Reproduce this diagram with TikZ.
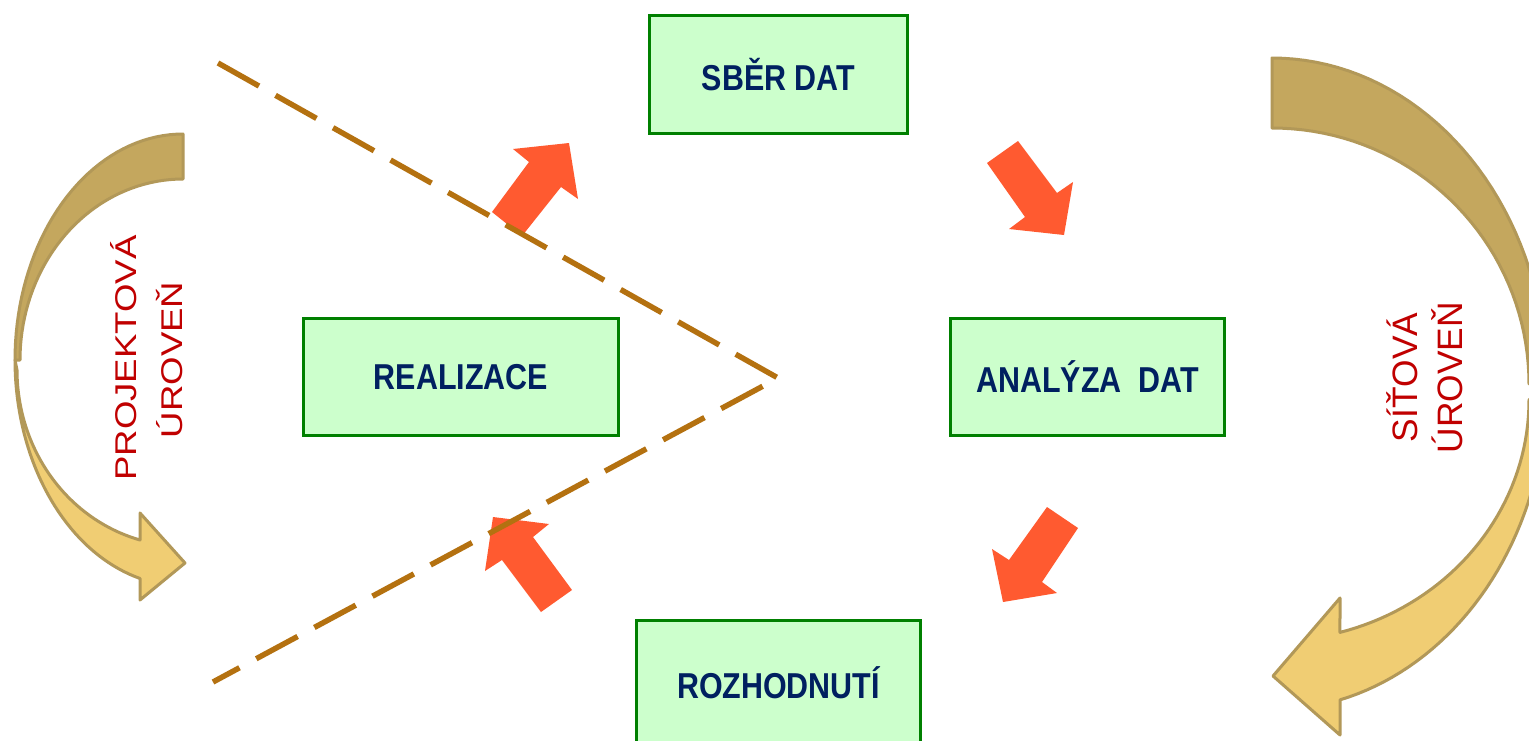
\documentclass[tikz,border=0pt]{standalone}
\usepackage{fontspec}
\setmainfont{Liberation Sans}
\newfontfamily\boxfont{Liberation Sans}[FakeStretch=0.845]
\newfontfamily\leftfont{Liberation Sans}[FakeStretch=1.22]
\definecolor{boxfill}{HTML}{CCFFCC}
\definecolor{boxgreen}{HTML}{008000}
\definecolor{boxtext}{HTML}{002060}
\definecolor{sidered}{HTML}{C00000}
\definecolor{redarrow}{HTML}{FF5A30}
\definecolor{dashbrown}{RGB}{180,113,16}
\definecolor{bandedge}{RGB}{178,152,88}
\definecolor{banddark}{RGB}{196,167,94}
\definecolor{bandlight}{RGB}{240,205,115}
\begin{document}
\begin{tikzpicture}[x=0.75pt,y=-0.75pt,
  box/.style={draw=boxgreen, fill=boxfill, line width=2.25pt, text=boxtext,
    font=\boxfont\bfseries\fontsize{27}{32}\selectfont, inner sep=0pt},
  sidetext/.style={text=sidered, rotate=90, anchor=base, inner sep=0pt},
  banddarkstyle/.style={fill=banddark, draw=bandedge, line width=2.25pt, line join=round},
  bandlightstyle/.style={fill=bandlight, draw=bandedge, line width=2.25pt, line join=round},
  blockarrow/.style={fill=redarrow},
  dashline/.style={draw=dashbrown, line width=4.1pt, dash pattern=on 35.25pt off 14.25pt}]
\useasboundingbox (0,0) rectangle (1529,740);
\clip (0,0) rectangle (1529,740);
\fill[white] (0,0) rectangle (1529,740);

% left curved arrow
\filldraw[banddarkstyle] plot[domain=270:180,samples=40] ({183+168*cos(\x)},{360+226*sin(\x)})
  -- plot[domain=180:270,samples=40] ({183+163*cos(\x)},{360+181*sin(\x)}) -- cycle;
\filldraw[bandlightstyle] plot[domain=180:104.83,samples=40] ({183+168*cos(\x)},{360+226*sin(\x)})
  -- (140,600) -- (185,563) -- (140,513)
  -- plot[domain=105.01:180,samples=40] ({183+166*cos(\x)},{370+176*sin(\x)}) -- cycle;

% right curved arrow
\filldraw[banddarkstyle] plot[domain=270:360,samples=40] ({1272+275*cos(\x)},{384+326*sin(\x)})
  -- plot[domain=0:-90,samples=40] ({1272+257*cos(\x)},{384+256*sin(\x)}) -- cycle;
\filldraw[bandlightstyle] plot[domain=0:75.68,samples=40] ({1272+275*cos(\x)},{384+326*sin(\x)})
  -- (1340,735) -- (1273,676) -- (1340,598)
  -- plot[domain=74.66:0,samples=40] ({1272+257*cos(\x)},{400+241*sin(\x)}) -- cycle;

% red block arrows
\fill[blockarrow] (492,212) -- (529,162) -- (513,149) -- (569,143) -- (578,199) -- (561,187) -- (522,236) -- cycle;
\fill[blockarrow] (987,163) -- (1018,141) -- (1057,193) -- (1073,182) -- (1064,235) -- (1009,229) -- (1025,217) -- cycle;
\fill[blockarrow] (1047,507) -- (1078,528) -- (1042,582) -- (1057,593) -- (1003,602) -- (992,549) -- (1009,560) -- cycle;
\fill[blockarrow] (493,517) -- (549,524) -- (533,537) -- (572,590) -- (541,612) -- (502,560) -- (485,571) -- cycle;

% dashed V
\coordinate (vtop) at (218,63);
\coordinate (vtip) at (778,378);
\coordinate (vbot) at (213,682);
\draw[dashline] (vtop) -- (vtip) -- (vbot);

% boxes
\node[box, minimum width=193.5pt, minimum height=88.5pt] (sber) at (778.5,74.5) {SBĚR DAT};
\node[box, minimum width=236.25pt, minimum height=87.75pt] (real) at (461,377) {REALIZACE};
\node[box, minimum width=205.5pt, minimum height=87.75pt] (anal) at (1087.5,377) {ANALÝZA\ \ DAT};
\node[box, minimum width=213pt, minimum height=93.4pt] (rozh) at (778.5,682.75) {ROZHODNUTÍ};

% side labels
\node[sidetext, font=\leftfont\fontsize{22.5}{27}\selectfont] (p1) at (136,358) {PROJEKTOVÁ};
\node[sidetext, font=\leftfont\fontsize{22.5}{27}\selectfont] (p2) at (182,360) {ÚROVEŇ};
\node[sidetext, font=\fontsize{26.5}{32}\selectfont] (s1) at (1417,377.5) {SÍŤOVÁ};
\node[sidetext, font=\fontsize{26.5}{32}\selectfont] (s2) at (1462,377.5) {ÚROVEŇ};
\end{tikzpicture}
\end{document}
